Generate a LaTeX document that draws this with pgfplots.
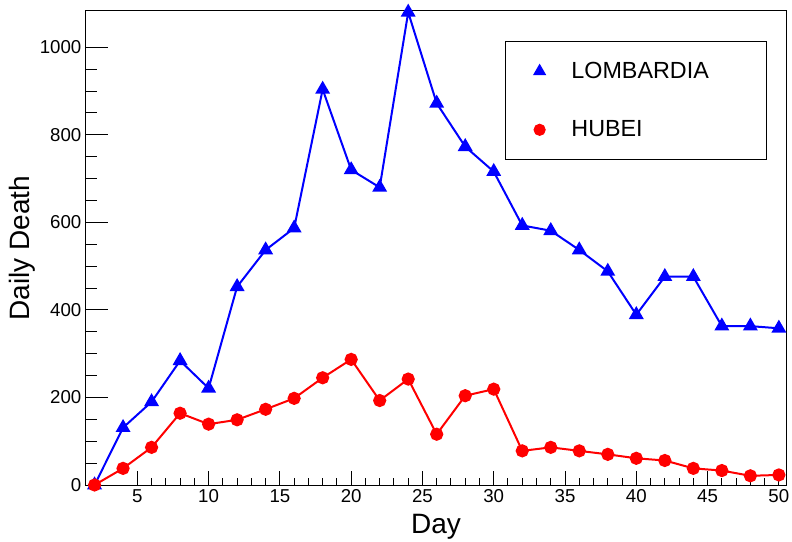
\documentclass[border=0pt]{standalone}
\usepackage{fontspec}
\setmainfont{Liberation Sans}
\usepackage{pgfplots}
\pgfplotsset{compat=1.18}

\definecolor{rootblue}{RGB}{0,0,255}
\definecolor{rootred}{RGB}{255,0,0}

\begin{document}
\begin{tikzpicture}
\begin{axis}[
  name=main,
  scale only axis,
  width=525pt, height=355.5pt,
  xmin=1.4, xmax=50.5, ymin=0, ymax=1083,
  xtick={5,10,...,50}, ytick={0,200,...,1000},
  minor x tick num=4, minor y tick num=3,
  tick pos=left, tick align=inside,
  xtick style={/pgfplots/major tick length=10.5pt,/pgfplots/minor tick length=5.25pt,black,line width=0.75pt},
  ytick style={/pgfplots/major tick length=16.5pt,/pgfplots/minor tick length=8.25pt,black,line width=0.75pt},
  axis line style={line width=0.75pt},
  ticklabel style={font=\fontsize{14}{16}\selectfont},
  /pgf/number format/assume math mode=true,
  /pgf/number format/1000 sep={},
  xlabel={Day}, ylabel={Daily Death},
  label style={font=\fontsize{21}{24}\selectfont},
  xlabel style={at={(axis description cs:0.5,-0.0886)}, anchor=center},
  ylabel style={at={(axis description cs:-0.0914,0.5)}, anchor=center},
  legend style={at={(rel axis cs:0.5986,0.9367)}, anchor=north west,
    draw=black, line width=0.75pt,
    font=\fontsize{17.5}{20}\selectfont,
    inner xsep=21.25pt, inner ysep=13.5pt,
    row sep=26.25pt, column sep=17.5pt},
  legend cell align=left,
]
\addlegendimage{only marks, mark=triangle*, rootblue, mark size=5pt}
\addlegendentry{LOMBARDIA\hspace*{20.25pt}}
\addlegendimage{only marks, mark=*, rootred, mark size=4.2pt}
\addlegendentry{HUBEI}

\addplot[forget plot, rootblue, line width=1.5pt, mark=triangle*, mark size=5pt] coordinates {
 (2,0) (4,131) (6,190) (8,284) (10,221) (12,453) (14,537) (16,587)
 (18,904) (20,720) (22,680) (24,1080) (26,872) (28,773) (30,716)
 (32,593) (34,581) (36,537) (38,488) (40,389) (42,476) (44,476)
 (46,363) (48,363) (50,358)
};
\addplot[forget plot, rootred, line width=1.5pt, mark=*, mark size=4.2pt] coordinates {
 (2,0) (4,38) (6,86) (8,164) (10,139) (12,149) (14,173) (16,198)
 (18,245) (20,287) (22,193) (24,242) (26,116) (28,204) (30,219)
 (32,78) (34,86) (36,78) (38,70) (40,61) (42,56) (44,38)
 (46,33) (48,21) (50,23)
};
\end{axis}
% page frame: fixed margins around the plotting area
\pgfresetboundingbox
\path ([shift={(-64.5pt,-42.75pt)}]main.south west) rectangle ([shift={(4.5pt,8.25pt)}]main.north east);
\end{tikzpicture}
\end{document}
